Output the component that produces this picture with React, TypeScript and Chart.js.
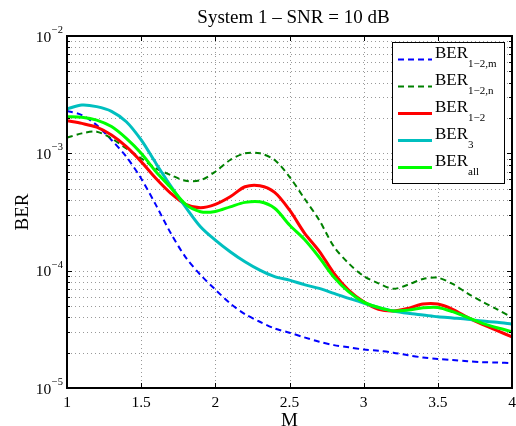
import { useEffect, useRef } from 'react';
import { Chart, registerables } from 'chart.js';

Chart.register(...registerables);

const M_VALUES = [1.0, 1.1, 1.2, 1.3, 1.4, 1.5, 1.6, 1.7, 1.8, 1.9, 2.0, 2.1, 2.2, 2.3, 2.4, 2.5, 2.6, 2.7, 2.8, 2.9, 3.0, 3.1, 3.2, 3.3, 3.4, 3.5, 3.6, 3.7, 3.8, 3.9, 4.0];

const BER_12M = [2.3e-3, 2.12e-3, 1.74e-3, 1.3e-3, 9.35e-4, 6.1e-4, 3.62e-4, 2.08e-4, 1.3e-4, 9.2e-5, 6.9e-5, 5.26e-5, 4.26e-5, 3.67e-5, 3.22e-5, 2.96e-5, 2.7e-5, 2.48e-5, 2.32e-5, 2.22e-5, 2.13e-5, 2.08e-5, 2.0e-5, 1.9e-5, 1.82e-5, 1.77e-5, 1.73e-5, 1.69e-5, 1.66e-5, 1.65e-5, 1.63e-5];
const BER_12N = [1.36e-3, 1.48e-3, 1.53e-3, 1.34e-3, 1.1e-3, 9.06e-4, 7.45e-4, 6.53e-4, 5.83e-4, 5.9e-4, 6.97e-4, 8.77e-4, 1.0e-3, 1.0e-3, 8.77e-4, 6.3e-4, 4.13e-4, 2.7e-4, 1.6e-4, 1.15e-4, 9.0e-5, 7.8e-5, 7.0e-5, 7.6e-5, 8.5e-5, 8.7e-5, 7.7e-5, 6.4e-5, 5.43e-5, 4.68e-5, 4.0e-5];
const BER_12 = [1.9e-3, 1.8e-3, 1.67e-3, 1.43e-3, 1.14e-3, 8.5e-4, 6.1e-4, 4.56e-4, 3.67e-4, 3.44e-4, 3.67e-4, 4.26e-4, 5.19e-4, 5.3e-4, 4.65e-4, 3.29e-4, 2.1e-4, 1.47e-4, 9.5e-5, 6.8e-5, 5.43e-5, 4.68e-5, 4.53e-5, 4.77e-5, 5.19e-5, 5.19e-5, 4.68e-5, 4.0e-5, 3.48e-5, 3.08e-5, 2.73e-5];
const BER_3 = [2.39e-3, 2.58e-3, 2.5e-3, 2.28e-3, 1.86e-3, 1.3e-3, 8.2e-4, 5.26e-4, 3.48e-4, 2.37e-4, 1.82e-4, 1.45e-4, 1.19e-4, 1.01e-4, 8.9e-5, 8.3e-5, 7.6e-5, 7.06e-5, 6.4e-5, 5.8e-5, 5.3e-5, 4.86e-5, 4.53e-5, 4.33e-5, 4.19e-5, 4.05e-5, 3.95e-5, 3.85e-5, 3.72e-5, 3.63e-5, 3.5e-5];
const BER_ALL = [2.05e-3, 2.03e-3, 1.92e-3, 1.69e-3, 1.34e-3, 1.0e-3, 6.97e-4, 5.1e-4, 3.67e-4, 3.18e-4, 3.2e-4, 3.5e-4, 3.82e-4, 3.86e-4, 3.4e-4, 2.45e-4, 1.85e-4, 1.3e-4, 8.8e-5, 6.6e-5, 5.4e-5, 4.86e-5, 4.53e-5, 4.61e-5, 4.83e-5, 4.86e-5, 4.47e-5, 4.0e-5, 3.56e-5, 3.26e-5, 3.02e-5];

const X_TICKS = [1, 1.5, 2, 2.5, 3, 3.5, 4];
const X_TICK_LABELS = ['1', '1.5', '2', '2.5', '3', '3.5', '4'];
const Y_DECADES = [-5, -4, -3, -2];
const Y_MINOR = [2, 3, 4, 5, 6, 7, 8, 9];

const TITLE = 'System 1 \u2013 SNR = 10 dB';
const X_LABEL = 'M';
const Y_LABEL = 'BER';

const SERIES = [
  { main: 'BER', sub: '1\u22122,m', data: BER_12M, color: '#0000ff', width: 2, dash: [6, 4] },
  { main: 'BER', sub: '1\u22122,n', data: BER_12N, color: '#008000', width: 2, dash: [6, 4] },
  { main: 'BER', sub: '1\u22122', data: BER_12, color: '#ff0000', width: 3, dash: [] as number[] },
  { main: 'BER', sub: '3', data: BER_3, color: '#00bfbf', width: 3, dash: [] as number[] },
  { main: 'BER', sub: 'all', data: BER_ALL, color: '#00ff00', width: 3, dash: [] as number[] },
];

const SERIF = '"Liberation Serif", "DejaVu Serif", "Times New Roman", serif';

const matlabPlugin = {
  id: 'matlabAxes',
  beforeDatasetsDraw(chart: any) {
    const { ctx, chartArea: a, scales } = chart;
    const x = scales.x;
    const y = scales.y;
    ctx.save();
    ctx.strokeStyle = 'rgba(0,0,0,0.4)';
    ctx.lineWidth = 1;
    ctx.setLineDash([1, 3]);
    for (const t of X_TICKS) {
      if (t === X_TICKS[0] || t === X_TICKS[X_TICKS.length - 1]) continue;
      const px = Math.round(x.getPixelForValue(t)) + 0.5;
      ctx.beginPath();
      ctx.moveTo(px, a.top);
      ctx.lineTo(px, a.bottom);
      ctx.stroke();
    }
    const yVals: number[] = [];
    for (let i = 0; i < Y_DECADES.length; i++) {
      const d = Y_DECADES[i];
      if (i > 0 && i < Y_DECADES.length - 1) yVals.push(Math.pow(10, d));
      if (i < Y_DECADES.length - 1) for (const m of Y_MINOR) yVals.push(m * Math.pow(10, d));
    }
    for (const v of yVals) {
      const py = Math.round(y.getPixelForValue(v)) + 0.5;
      ctx.beginPath();
      ctx.moveTo(a.left, py);
      ctx.lineTo(a.right, py);
      ctx.stroke();
    }
    ctx.restore();
  },
  afterDatasetsDraw(chart: any) {
    const { ctx, chartArea: a, scales } = chart;
    const x = scales.x;
    const y = scales.y;
    ctx.save();
    ctx.setLineDash([]);
    ctx.strokeStyle = '#000';
    ctx.lineWidth = 1;
    for (const t of X_TICKS) {
      const px = Math.round(x.getPixelForValue(t)) + 0.5;
      ctx.beginPath();
      ctx.moveTo(px, a.bottom);
      ctx.lineTo(px, a.bottom - 5);
      ctx.moveTo(px, a.top);
      ctx.lineTo(px, a.top + 5);
      ctx.stroke();
    }
    for (let i = 0; i < Y_DECADES.length; i++) {
      const d = Y_DECADES[i];
      const py = Math.round(y.getPixelForValue(Math.pow(10, d))) + 0.5;
      ctx.beginPath();
      ctx.moveTo(a.left, py);
      ctx.lineTo(a.left + 5, py);
      ctx.moveTo(a.right, py);
      ctx.lineTo(a.right - 5, py);
      ctx.stroke();
      if (i < Y_DECADES.length - 1) {
        for (const m of Y_MINOR) {
          const pm = Math.round(y.getPixelForValue(m * Math.pow(10, d))) + 0.5;
          ctx.beginPath();
          ctx.moveTo(a.left, pm);
          ctx.lineTo(a.left + 3, pm);
          ctx.moveTo(a.right, pm);
          ctx.lineTo(a.right - 3, pm);
          ctx.stroke();
        }
      }
    }
    ctx.lineWidth = 2;
    ctx.strokeRect(a.left, a.top, a.right - a.left, a.bottom - a.top);

    ctx.fillStyle = '#000';
    ctx.font = `15.5px ${SERIF}`;
    ctx.textAlign = 'center';
    ctx.textBaseline = 'alphabetic';
    X_TICKS.forEach((t, i) => {
      ctx.fillText(X_TICK_LABELS[i], x.getPixelForValue(t), a.bottom + 18.5);
    });
    for (const d of Y_DECADES) {
      const py = y.getPixelForValue(Math.pow(10, d));
      const sup = '\u2212' + String(Math.abs(d));
      ctx.font = `10.5px ${SERIF}`;
      const sw = ctx.measureText(sup).width;
      ctx.textAlign = 'left';
      const rightEdge = a.left - 4;
      ctx.fillText(sup, rightEdge - sw, py - 3);
      ctx.font = `15.5px ${SERIF}`;
      ctx.textAlign = 'right';
      ctx.fillText('10', rightEdge - sw - 0.5, py + 5.5);
    }
    ctx.font = `19px ${SERIF}`;
    ctx.textAlign = 'center';
    ctx.fillText(X_LABEL, (a.left + a.right) / 2, 425.5);
    ctx.save();
    ctx.translate(28, (a.top + a.bottom) / 2);
    ctx.rotate(-Math.PI / 2);
    ctx.fillText(Y_LABEL, 0, 0);
    ctx.restore();
    ctx.font = `19px ${SERIF}`;
    ctx.textAlign = 'center';
    ctx.fillText(TITLE, (a.left + a.right) / 2 + 4, 23);

    const lx = 392.5, ly = 42.5, lw = 112, lh = 141;
    ctx.fillStyle = '#fff';
    ctx.fillRect(lx, ly, lw, lh);
    ctx.strokeStyle = '#000';
    ctx.lineWidth = 1;
    ctx.strokeRect(lx, ly, lw, lh);
    SERIES.forEach((s, i) => {
      const ry = 59.5 + 27 * i;
      ctx.strokeStyle = s.color;
      ctx.lineWidth = s.width;
      ctx.setLineDash(s.dash);
      ctx.beginPath();
      ctx.moveTo(398, ry);
      ctx.lineTo(432, ry);
      ctx.stroke();
      ctx.setLineDash([]);
      ctx.fillStyle = '#000';
      ctx.textAlign = 'left';
      ctx.font = `17px ${SERIF}`;
      ctx.fillText(s.main, 435, ry - 2);
      const mw = ctx.measureText(s.main).width;
      ctx.font = `11px ${SERIF}`;
      ctx.fillText(s.sub, 435 + mw, ry + 7.5);
    });
    ctx.restore();
  },
};

export default function App() {
  const ref = useRef<HTMLCanvasElement | null>(null);
  useEffect(() => {
    document.body.style.margin = '0';
    document.body.style.background = '#fff';
    const canvas = ref.current;
    if (!canvas) return;
    const chart = new Chart(canvas, {
      type: 'line',
      data: {
        datasets: SERIES.map((s, i) => ({
          label: s.main + s.sub,
          data: M_VALUES.map((m, j) => ({ x: m, y: s.data[j] })),
          borderColor: s.color,
          backgroundColor: s.color,
          borderWidth: s.width,
          borderDash: s.dash,
          pointRadius: 0,
          tension: 0.3,
          fill: false,
          order: SERIES.length - i,
        })),
      },
      options: {
        animation: false,
        responsive: false,
        devicePixelRatio: 1,
        layout: { padding: { top: 36, right: 4, left: 0, bottom: 0 } },
        scales: {
          x: {
            type: 'linear',
            min: 1,
            max: 4,
            grid: { display: false },
            border: { display: false },
            ticks: { display: false },
            afterFit(s: any) { s.height = 38; },
          },
          y: {
            type: 'logarithmic',
            min: 1e-5,
            max: 1e-2,
            grid: { display: false },
            border: { display: false },
            ticks: { display: false },
            afterFit(s: any) { s.width = 67; },
          },
        },
        plugins: {
          legend: { display: false },
          title: { display: false },
          tooltip: { enabled: false },
        },
      } as any,
      plugins: [matlabPlugin],
    });
    return () => chart.destroy();
  }, []);
  return (
    <div style={{ width: 516, height: 426, background: '#fff' }}>
      <canvas ref={ref} width={516} height={426} style={{ display: 'block' }} />
    </div>
  );
}
